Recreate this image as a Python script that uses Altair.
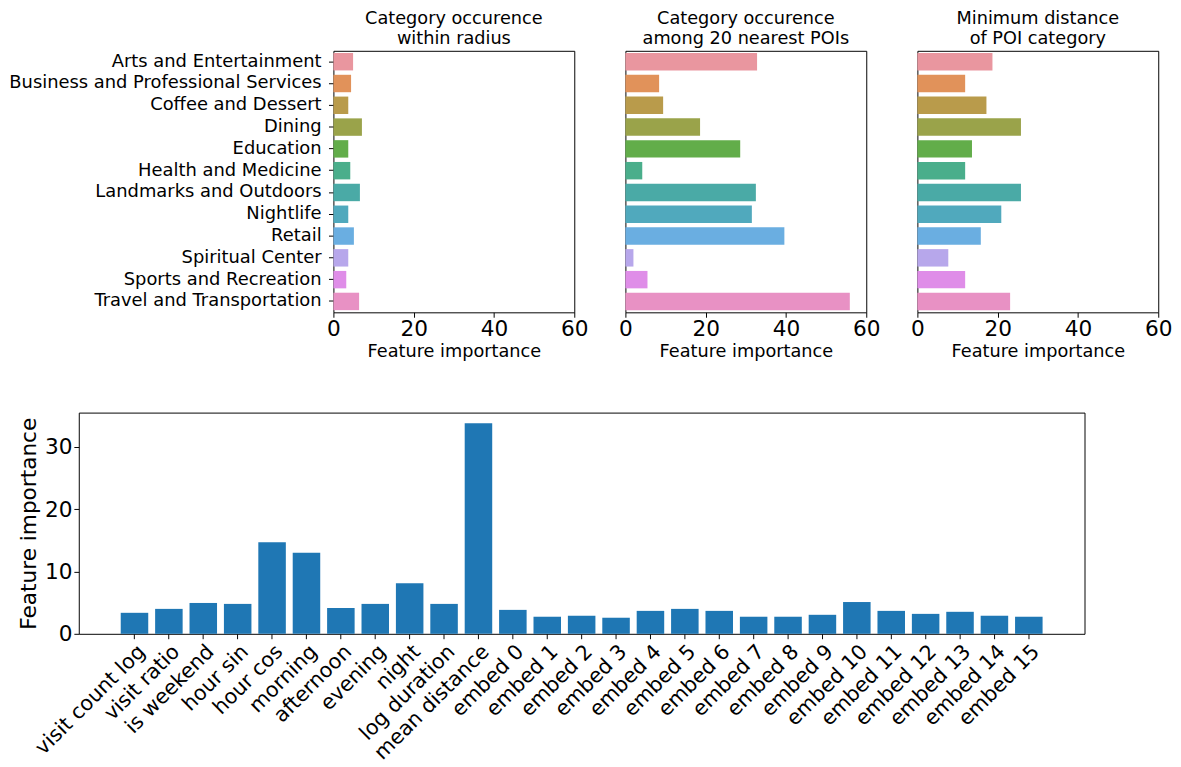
import altair as alt
import pandas as pd

categories = [
    "Arts and Entertainment", "Business and Professional Services", "Coffee and Dessert",
    "Dining", "Education", "Health and Medicine", "Landmarks and Outdoors", "Nightlife",
    "Retail", "Spiritual Center", "Sports and Recreation", "Travel and Transportation",
]
within_radius = [4.9, 4.4, 3.7, 7.1, 3.7, 4.2, 6.6, 3.7, 5.1, 3.7, 3.2, 6.4]
nearest_20 = [32.8, 8.4, 9.4, 18.6, 28.6, 4.2, 32.5, 31.5, 39.6, 2.0, 5.5, 55.9]
min_distance = [18.7, 11.9, 17.2, 25.8, 13.6, 11.9, 25.8, 20.9, 15.8, 7.7, 11.9, 23.1]
palette = ["#e9969f", "#e1925a", "#b99b4b", "#9aa34a", "#62ad4a", "#4aae8b",
           "#4aaaa6", "#50a9bd", "#6aaee1", "#b7a7eb", "#df8de8", "#e891c4"]

features = [
    "visit count log", "visit ratio", "is weekend", "hour sin", "hour cos", "morning",
    "afternoon", "evening", "night", "log duration", "mean distance",
    "embed 0", "embed 1", "embed 2", "embed 3", "embed 4", "embed 5", "embed 6", "embed 7",
    "embed 8", "embed 9", "embed 10", "embed 11", "embed 12", "embed 13", "embed 14", "embed 15",
]
importance = [3.37, 4.0, 4.95, 4.8, 14.7, 13.0, 4.16, 4.8, 8.1, 4.8, 33.8,
              3.84, 2.74, 2.9, 2.58, 3.68, 4.0, 3.68, 2.74, 2.74, 3.05, 5.1,
              3.68, 3.2, 3.53, 2.9, 2.74]

FONT = "DejaVu Sans"
PW, PH = 245, 266
BW, BH = 1023, 225
LW = 247  # width of the category-label column

ybands = alt.Scale(paddingInner=0.2, paddingOuter=0.1)
cat_df = pd.DataFrame({"category": categories})

labels = alt.Chart(cat_df).mark_text(
    align="right", baseline="middle", fontSize=18.2, font=FONT, color="black"
).encode(
    y=alt.Y("category:N", sort=categories, scale=ybands, axis=None),
    text="category:N",
    x=alt.value(LW),
).properties(width=LW, height=PH, view=alt.ViewBackground(stroke="transparent"))


def panel(values, title_lines, ticks):
    df = pd.DataFrame({"category": categories, "value": values})
    if ticks:
        yaxis = alt.Axis(title=None, labels=False, ticks=True, tickSize=5)
    else:
        yaxis = None
    return alt.Chart(df).mark_bar().encode(
        y=alt.Y("category:N", sort=categories, scale=ybands, axis=yaxis),
        x=alt.X("value:Q", scale=alt.Scale(domain=[0, 60], nice=False),
                axis=alt.Axis(title="Feature importance", values=[0, 20, 40, 60],
                              labelFontSize=22, titleFontSize=18, tickSize=5,
                              labelPadding=2, titlePadding=3, labelFlush=False)),
        color=alt.Color("category:N", scale=alt.Scale(domain=categories, range=palette),
                        legend=None),
    ).properties(
        width=PW, height=PH,
        title=alt.TitleParams(title_lines, fontSize=18, font=FONT, fontWeight="normal",
                              color="black", anchor="middle", offset=3, lineHeight=20),
    )


p1 = panel(within_radius, ["Category occurence", "within radius"], True)
p2 = panel(nearest_20, ["Category occurence", "among 20 nearest POIs"], False)
p3 = panel(min_distance, ["Minimum distance", "of POI category"], False)

top = alt.hconcat(alt.hconcat(labels, p1, spacing=3), p2, p3, spacing=29)

# band range inset so that outer padding is ~1.2 steps, as in the reference
inset = 0.0075 * BW
bdf = pd.DataFrame({"feature": features, "importance": importance})
bars = alt.Chart(bdf).mark_bar(color="#1f77b4").encode(
    x=alt.X("feature:N", sort=features,
            scale=alt.Scale(paddingInner=0.2, paddingOuter=1.0,
                            range=[inset, BW - inset]),
            axis=alt.Axis(title=None, labelAngle=315, labelFontSize=21, tickSize=5,
                          labelPadding=2, labelLimit=400)),
    y=alt.Y("importance:Q", scale=alt.Scale(domain=[0, 35.5], nice=False),
            axis=alt.Axis(title="Feature importance", values=[0, 10, 20, 30],
                          labelFontSize=22, titleFontSize=22, tickSize=5,
                          labelPadding=2, titlePadding=4)),
)
# invisible (white) spacer that reserves room left of the y-axis title
spacer = alt.Chart(bdf).mark_rule(color="white", strokeWidth=1).encode(
    x=alt.value(-67), x2=alt.value(-66), y=alt.value(100)
)
bottom = alt.layer(bars, spacer).properties(width=BW, height=BH)

chart = alt.vconcat(top, bottom, spacing=51).properties(
    padding={"left": 0, "top": -5, "right": 0, "bottom": 0}
).configure_view(
    stroke="black", strokeWidth=1
).configure_axis(
    labelFont=FONT, titleFont=FONT, labelColor="black", titleColor="black",
    tickColor="black", grid=False, domain=False, titleFontWeight="normal"
)

chart.save("out.html", embed_options={"renderer": "svg", "actions": False})
